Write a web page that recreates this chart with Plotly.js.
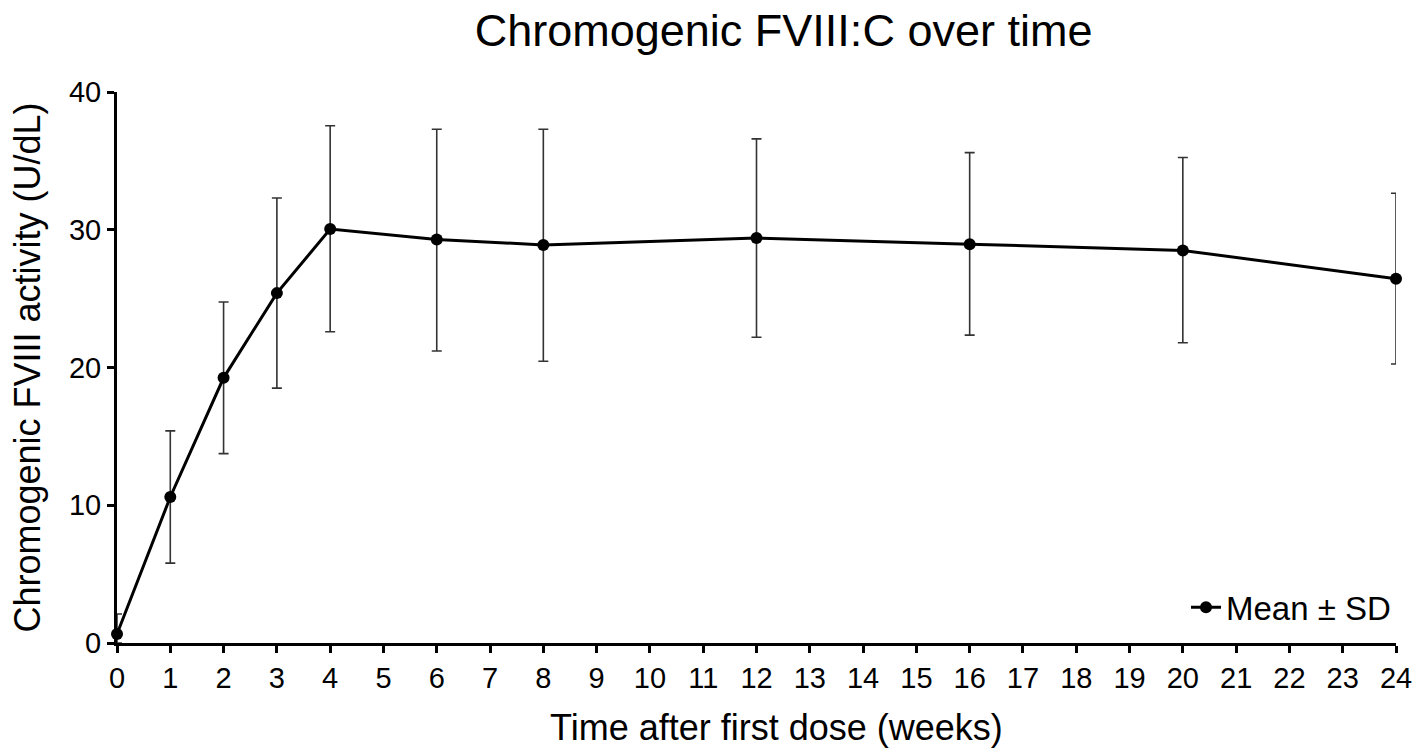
<!DOCTYPE html>
<html>
<head>
<meta charset="utf-8">
<script src="https://cdn.plot.ly/plotly-3.0.1.min.js"></script>
<style>html,body{margin:0;padding:0;background:#fff}#chart{width:1417px;height:752px}</style>
</head>
<body>
<div id="chart"></div>
<script>
var weeks = [0, 1, 2, 3, 4, 6, 8, 12, 16, 20, 24];
var meanFVIII = [0.65, 10.6, 19.25, 25.4, 30.05, 29.3, 28.9, 29.4, 28.95, 28.5, 26.45];
var sdPlus = [1.45, 4.8, 5.5, 6.9, 7.5, 8.0, 8.4, 7.2, 6.65, 6.75, 6.2];
var sdMinus = [0.65, 4.8, 5.5, 6.9, 7.45, 8.1, 8.45, 7.2, 6.6, 6.7, 6.2];
var xTicks = [0,1,2,3,4,5,6,7,8,9,10,11,12,13,14,15,16,17,18,19,20,21,22,23,24];
var yTicks = [0, 10, 20, 30, 40];

var font = "Liberation Sans, Arial, sans-serif";

var trace = {
  x: weeks,
  y: meanFVIII,
  type: 'scatter',
  mode: 'lines+markers',
  name: 'Mean ± SD',
  cliponaxis: false,
  line: {color: '#000', width: 3},
  marker: {color: '#000', size: 12},
  error_y: {
    type: 'data',
    symmetric: false,
    array: sdPlus,
    arrayminus: sdMinus,
    color: '#333',
    thickness: 1.6,
    width: 5
  }
};

var layout = {
  width: 1417,
  height: 752,
  paper_bgcolor: '#fff',
  plot_bgcolor: '#fff',
  margin: {l: 117, r: 21, t: 92, b: 109},
  font: {family: font, color: '#000'},
  title: {
    text: 'Chromogenic FVIII:C over time',
    font: {family: font, size: 45, color: '#000'},
    x: 0.553,
    xanchor: 'center',
    y: 0.96,
    yanchor: 'middle'
  },
  showlegend: true,
  legend: {
    x: 1.0, xanchor: 'right',
    y: 0.065, yanchor: 'middle',
    font: {family: font, size: 33, color: '#000'},
    bgcolor: 'rgba(0,0,0,0)',
    itemwidth: 30
  },
  annotations: [{
    text: 'Time after first dose (weeks)',
    xref: 'paper', yref: 'paper',
    x: 0.5, y: 0, xshift: 20, yshift: -84,
    xanchor: 'center', yanchor: 'middle',
    showarrow: false,
    font: {family: font, size: 36, color: '#000'}
  }],
  xaxis: {
    range: [0, 24],
    tickmode: 'array',
    tickvals: xTicks,
    ticktext: xTicks.map(String),
    showgrid: false,
    zeroline: false,
    showline: true,
    linecolor: '#000',
    linewidth: 3,
    ticks: 'outside',
    ticklen: 7,
    tickwidth: 3,
    tickcolor: '#000',
    tickfont: {family: font, size: 29, color: '#000'}
  },
  yaxis: {
    range: [0, 40],
    tickmode: 'array',
    tickvals: yTicks,
    ticktext: yTicks.map(String),
    showgrid: false,
    zeroline: false,
    showline: true,
    linecolor: '#000',
    linewidth: 3,
    ticks: 'outside',
    ticklen: 7,
    tickwidth: 3,
    tickcolor: '#000',
    tickfont: {family: font, size: 29, color: '#000'},
    title: {text: 'Chromogenic FVIII activity (U/dL)', font: {family: font, size: 36, color: '#000'}, standoff: 18}
  }
};

Plotly.newPlot('chart', [trace], layout, {displayModeBar: false, staticPlot: true});
</script>
</body>
</html>
